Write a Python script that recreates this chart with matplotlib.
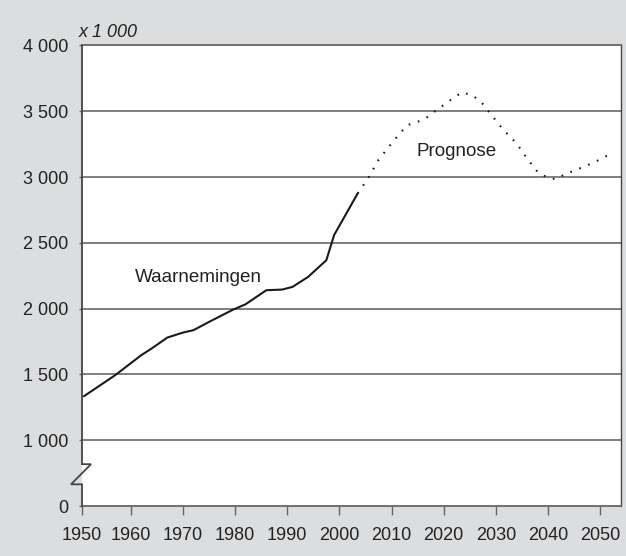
import matplotlib
matplotlib.use("Agg")
import matplotlib.pyplot as plt

plt.rcParams["font.family"] = ["Liberation Sans", "DejaVu Sans"]

# observed population (x 1 000)
obs_years = [1951, 1957, 1962, 1964, 1967, 1970, 1972, 1975, 1979.5, 1982,
             1986, 1989, 1991, 1994, 1997.5, 1999, 2000.5, 2003.5]
obs_values = [1334, 1494, 1646, 1697, 1780, 1818, 1836, 1899, 1990, 2033,
              2140, 2145, 2165, 2241, 2368, 2560, 2665, 2875]

# forecast
prog_years = [2003.5, 2005.5, 2007.5, 2010.5, 2013, 2015, 2016.5, 2018, 2020.5,
              2023.5, 2025.5, 2027, 2029, 2031.5, 2034, 2036, 2038, 2040,
              2041.5, 2043.5, 2046.5, 2049, 2051.5]
prog_values = [2875, 2990, 3130, 3280, 3394, 3420, 3445, 3490, 3563,
               3645, 3620, 3580, 3480, 3356, 3255, 3140, 3040, 2993,
               2985, 3026, 3072, 3115, 3166]

x_ticks = [1950, 1960, 1970, 1980, 1990, 2000, 2010, 2020, 2030, 2040, 2050]
y_ticks = [1000, 1500, 2000, 2500, 3000, 3500, 4000]
y_labels = ["1 000", "1 500", "2 000", "2 500", "3 000", "3 500", "4 000"]

# the axis is broken: everything below 1 000 is squeezed into one step
y_zero_pos = 500
x_left, x_right = 1950.65, 2054.0

bg = "#dcdddf"
axis_col = "#666666"
grid_col = "#5c5c5c"
text_col = "#222222"

fig = plt.figure(figsize=(6.26, 5.56), dpi=100, facecolor=bg)
ax = fig.add_axes([0.131, 0.0899, 0.861, 0.8283])
ax.set_facecolor("white")

ax.set_xlim(x_left, x_right)
ax.set_ylim(y_zero_pos, 4000)

for v in y_ticks[:-1]:
    ax.axhline(v, color=grid_col, lw=1.1, zorder=1)

ax.plot(obs_years, obs_values, color="#1a1a1a", lw=1.5, zorder=3,
        solid_capstyle="round")
ax.plot(prog_years, prog_values, color="#1a1a1a", lw=1.5, zorder=3,
        linestyle=(0, (0.8, 3.8)), dash_capstyle="butt")

ax.text(1973.0, 2239, "Waarnemingen", fontsize=13.6, color=text_col,
        ha="center", va="center")
ax.text(2022.5, 3191, "Prognose", fontsize=13.6, color=text_col,
        ha="center", va="center")
ax.text(-0.006, 1.029, "x 1 000", transform=ax.transAxes, fontsize=13,
        style="italic", color=text_col, ha="left", va="center")

# ticks
xt = [max(t, x_left) for t in x_ticks]
ax.set_xticks(xt)
ax.set_xticklabels([str(t) for t in x_ticks])
ax.set_yticks([y_zero_pos] + y_ticks)
ax.set_yticklabels(["0"] + y_labels)
ax.tick_params(axis="x", direction="out", length=6.5, width=1.0,
               color=axis_col, pad=8.5, labelsize=13, labelcolor=text_col)
ax.tick_params(axis="y", direction="out", length=2, width=1.0,
               color=axis_col, pad=8, labelsize=13, labelcolor=text_col)

for side in ["top", "bottom"]:
    ax.spines[side].set_color(axis_col)
    ax.spines[side].set_linewidth(1.3)
ax.spines["right"].set_color("#444444")
ax.spines["right"].set_linewidth(1.0)
ax.spines["left"].set_visible(False)

# left axis with the break symbol
tr = ax.get_yaxis_transform()
brk_hi, brk_lo = 818, 665
ax.plot([0, 0, 0.0167, -0.0204, 0, 0],
        [4000, brk_hi, brk_hi, brk_lo, brk_lo, y_zero_pos],
        transform=tr, color="#444444", lw=1.3, clip_on=False, zorder=4,
        solid_joinstyle="miter")

fig.savefig("out.png", dpi=100, facecolor=bg)
